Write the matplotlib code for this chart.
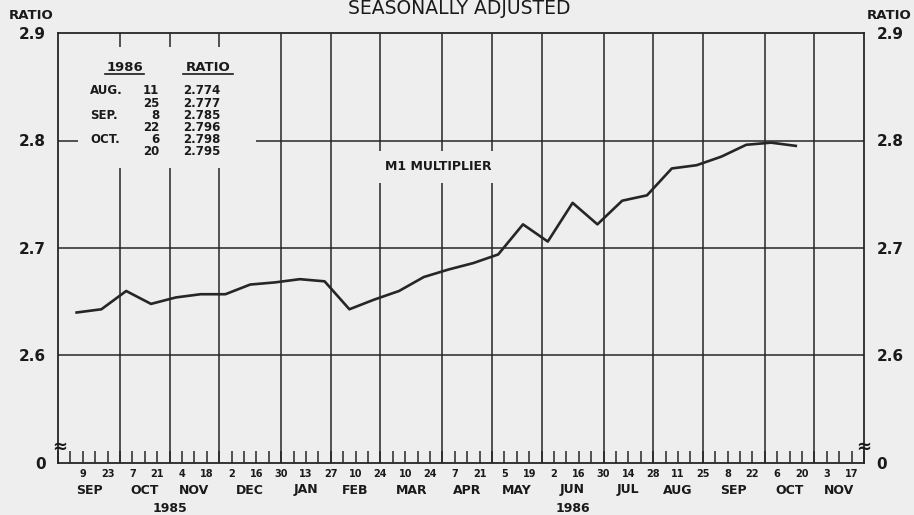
import matplotlib.pyplot as plt
import numpy as np
import pandas as pd
from matplotlib.patches import Rectangle
from matplotlib.lines import Line2D
from matplotlib.transforms import blended_transform_factory

plt.rc('font', family='DejaVu Sans', weight='bold')

# weekly axis, Mondays from Aug 26 1985 to Nov 24 1986
start = pd.Timestamp('1985-08-26')
end = pd.Timestamp('1986-11-24')

# biweekly M1 multiplier, seasonally adjusted
dates = ['1985-09-09', '1985-09-23', '1985-10-07', '1985-10-21', '1985-11-04',
         '1985-11-18', '1985-12-02', '1985-12-16', '1985-12-30', '1986-01-13',
         '1986-01-27', '1986-02-10', '1986-02-24', '1986-03-10', '1986-03-24',
         '1986-04-07', '1986-04-21', '1986-05-05', '1986-05-19', '1986-06-02',
         '1986-06-16', '1986-06-30', '1986-07-14', '1986-07-28', '1986-08-11',
         '1986-08-25', '1986-09-08', '1986-09-22', '1986-10-06', '1986-10-20']
ratio = [2.640, 2.643, 2.660, 2.648, 2.654,
         2.657, 2.657, 2.666, 2.668, 2.671,
         2.669, 2.643, 2.652, 2.660, 2.673,
         2.680, 2.686, 2.694, 2.722, 2.706,
         2.742, 2.722, 2.744, 2.749, 2.774,
         2.777, 2.785, 2.796, 2.798, 2.795]

yticks = [2.5, 2.6, 2.7, 2.8, 2.9]
ylabels = ['0', '2.6', '2.7', '2.8', '2.9']
table_months = ['AUG.', '', 'SEP.', '', 'OCT.', '']

ink = '#262626'
paper = '#eeeeee'
W, H = 914, 515

def fx(x):
    return x / W

def fy(y):
    return 1 - y / H

fig = plt.figure(figsize=(W / 100, H / 100), dpi=100, facecolor=paper)
ax = fig.add_axes([fx(58), 52 / H, 806 / W, 430 / H], facecolor=paper)

mondays = pd.date_range(start, end, freq='7D')
weeks = np.arange(len(mondays))
is_last = np.array([(m + pd.Timedelta(days=7)).month != m.month for m in mondays])
month_lines = weeks[is_last]

def week(d):
    return (pd.Timestamp(d) - start).days / 7

xs = np.array([week(d) for d in dates]) - 0.5

ax.set_xlim(0, weeks[-1])
ax.set_ylim(2.5, 2.9)

for v in yticks[1:-1]:
    ax.axhline(v, color=ink, lw=1.1, zorder=1)
for w in month_lines[1:-1]:
    ax.axvline(w, color=ink, lw=1.1, zorder=1)

ax.plot(xs, ratio, color=ink, lw=1.9, zorder=2)

for s in ax.spines.values():
    s.set_color(ink)
    s.set_linewidth(1.3)

# y axis labels both sides
ax.set_yticks(yticks)
ax.set_yticklabels(ylabels)
ax.tick_params(axis='y', length=0, labelsize=11, pad=9, labelright=True,
               colors='#1a1a1a')

# weekly ticks, day labels every two weeks
lab_weeks = weeks[(weeks % 2 == 0) & (weeks >= 2)]
ax.set_xticks(lab_weeks)
ax.set_xticklabels([str(mondays[w].day) for w in lab_weeks])
ax.set_xticks(weeks, minor=True)
ax.tick_params(axis='x', which='both', direction='in', length=9, width=1.1,
               color=ink, labelsize=7, pad=4.5, labelcolor='#1a1a1a')

tr = blended_transform_factory(ax.transData, fig.transFigure)
years = {}
for a, b in zip(month_lines[:-1], month_lines[1:]):
    ax.text((a + b) / 2, fy(490), mondays[b].strftime('%b').upper(),
            transform=tr, ha='center', va='center', fontsize=9, color='#1a1a1a')
    yr = mondays[b].year
    years.setdefault(yr, [a, b])
    years[yr][1] = b
for yr, (a, b) in years.items():
    ax.text((a + b) / 2, fy(508), str(yr), transform=tr, ha='center',
            va='center', fontsize=9, color='#1a1a1a')

# text
fig.text(0.502, fy(9), 'SEASONALLY ADJUSTED', ha='center', va='center',
         fontsize=13.5, weight='normal', color='#1a1a1a')
fig.text(fx(31.5), fy(15.7), 'RATIO', ha='center', va='center', fontsize=9.5,
         color='#1a1a1a')
fig.text(fx(889), fy(15.7), 'RATIO', ha='center', va='center', fontsize=9.5,
         color='#1a1a1a')
for xb in (60, 864):
    fig.text(fx(xb), fy(447), '\u2248', ha='center', va='center', fontsize=13,
             color='#1a1a1a', zorder=3)

# inset table
fig.add_artist(Rectangle((fx(78), fy(168)), (256 - 78) / W, (168 - 47) / H,
                         transform=fig.transFigure, facecolor=paper,
                         edgecolor='none', zorder=2))
fig.text(fx(125), fy(67.5), '1986', ha='center', va='center', fontsize=9.5,
         color='#1a1a1a', zorder=3)
fig.text(fx(208), fy(67.5), 'RATIO', ha='center', va='center', fontsize=9.5,
         color='#1a1a1a', zorder=3)
for x0, x1 in [(105, 144), (183, 233)]:
    fig.add_artist(Line2D([fx(x0), fx(x1)], [fy(74), fy(74)],
                          transform=fig.transFigure, color='#1a1a1a', lw=1.2,
                          zorder=3))
for i, (mo, d, v) in enumerate(zip(table_months, dates[-6:], ratio[-6:])):
    yy = fy(91 + 12.1 * i)
    fig.text(fx(90), yy, mo, ha='left', va='center', fontsize=8.5,
             color='#1a1a1a', zorder=3)
    fig.text(fx(159), yy, str(pd.Timestamp(d).day), ha='right', va='center',
             fontsize=8.5, color='#1a1a1a', zorder=3)
    fig.text(fx(183), yy, f'{v:.3f}', ha='left', va='center', fontsize=8.5,
             color='#1a1a1a', zorder=3)

fig.text(fx(385), fy(166.7), 'M1 MULTIPLIER', ha='left', va='center',
         fontsize=9, color='#1a1a1a', zorder=3,
         bbox=dict(boxstyle='square,pad=0.75', fc=paper, ec='none'))

fig.savefig('out.png', dpi=100, facecolor=paper)
